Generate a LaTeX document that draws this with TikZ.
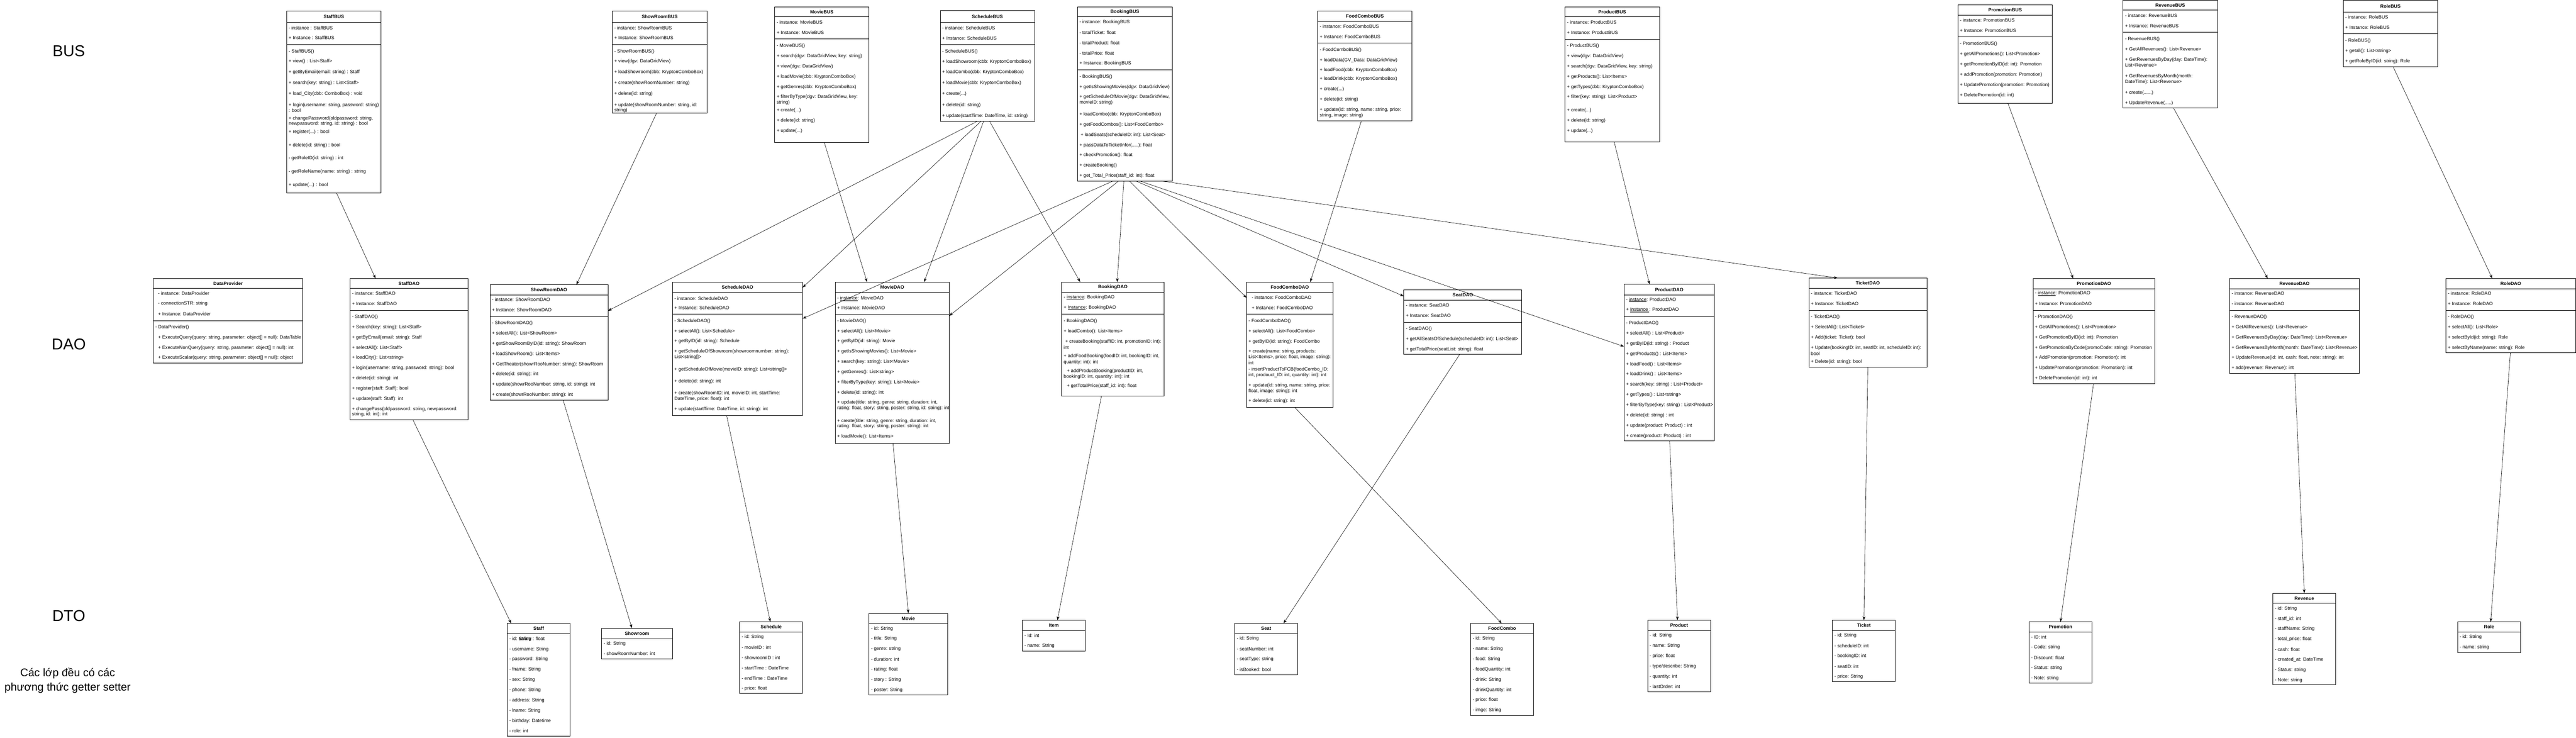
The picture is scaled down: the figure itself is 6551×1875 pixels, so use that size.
\documentclass[tikz,border=0pt]{standalone}
\usepackage{fontspec}
\setmainfont{Liberation Sans}
\usetikzlibrary{arrows.meta, fit}
\tikzset{>=Stealth,
	classbox/.style={draw, line width=1pt, inner sep=0pt, outer sep=0pt},
	classtitle/.style={font=\fontsize{12}{14}\selectfont\bfseries},
	row/.style={anchor=west, inner sep=0pt, font=\fontsize{12}{14}\selectfont},
	link/.style={-{Stealth[length=10pt, width=7pt]}, line width=0.8pt},
	layer/.style={font=\fontsize{40}{48}\selectfont}
}
% class box: name, left, top, right, bottom, header line, separator line, title
\newcommand{\umlclass}[8]{
	\node[classbox, fit={(#2,#3) (#4,#5)}] (#1) {};
	\draw[line width=1pt] (#2,#6) -- (#4,#6);
	\draw[line width=1pt] (#2,#7) -- (#4,#7);
	\node[classtitle] at ({(#2+#4)/2},{(#3+#6)/2}) {#8};
}
\newcommand{\rows}[2]{\foreach \ry/\rt in {#2} \node[row] at (#1+5,\ry) {\rt};}
\newcommand{\dtorows}[3]{\foreach \rt [count=\k from 0] in {#3} \node[row] at (#1+5,#2+26*\k) {\rt};}

\begin{document}
\begin{tikzpicture}[x=1pt, y=-1pt]
	\fill[white] (0,0) rectangle (6551,1875);
	\useasboundingbox (0,0) rectangle (6551,1875);

	\node[layer] (busLabel) at (175,130) {BUS};
	\node[layer] (daoLabel) at (175,875) {DAO};
	\node[layer] (dtoLabel) at (175,1565) {DTO};
	\node[font=\fontsize{28}{36}\selectfont, align=center] (note) at (172,1730) {Các lớp đều có các\\phương thức getter setter};

	% BUS
	\umlclass{staffBUS}{729}{27.5}{969}{491}{57}{113.5}{StaffBUS}
	\rows{729}{71/{- instance : StaffBUS}, 96/{+ Instance : StaffBUS}, 131/{- StaffBUS()}, 156/{+ view() : List<Staff>},
		183/{+ getByEmail(email: string) : Staff}, 211/{+ search(key: string) : List<Staff>}, 238/{+ load\_City(cbb: ComboBox) : void},
		267/{+ login(username: string, password: string)}, 281/{: bool}, 301/{+ changePassword(oldpassword: string,},
		315/{newpassword: string, id: string) : bool}, 335/{+ register(...) : bool}, 369/{+ delete(id: string) : bool},
		403/{- getRoleID(id: string) : int}, 436/{- getRoleName(name: string) : string}, 470/{+ update(...) : bool}}

	\umlclass{showroomBUS}{1557}{27.5}{1798}{287}{57}{113.5}{ShowRoomBUS}
	\rows{1557}{71/{- instance: ShowRoomBUS}, 96/{+ Instance: ShowRoomBUS}, 131/{- ShowRoomBUS()}, 156/{+ view(dgv: DataGridView)},
		183/{+ loadShowroom(cbb: KryptonComboBox)}, 211/{+ create(showRoomNumber: string)}, 238/{+ delete(id: string)},
		267/{+ update(showRoomNumber: string, id:}, 281/{string)}}

	\umlclass{movieBUS}{1970}{17.4}{2210}{361.5}{43}{99}{MovieBUS}
	\rows{1970}{57/{- instance: MovieBUS}, 82.5/{+ Instance: MovieBUS}, 117/{- MovieBUS()}, 143/{+ search(dgv: DataGridView, key: string)},
		169/{+ view(dgv: DataGridView)}, 195/{+ loadMovie(cbb: KryptonComboBox)}, 221/{+ getGenres(cbb: KryptonComboBox)},
		247/{+ filterByType(dgv: DataGridView, key:}, 261/{string)}, 281/{+ create(...)}, 307/{+ delete(id: string)}, 333/{+ update(...)}}

	\umlclass{scheduleBUS}{2391}{27}{2631}{309}{57}{113}{ScheduleBUS}
	\rows{2391}{71/{- instance: ScheduleBUS}, 97/{+ Instance: ScheduleBUS}, 131/{- ScheduleBUS()}, 157/{+ loadShowroom(cbb: KryptonComboBox)},
		183/{+ loadCombo(cbb: KryptonComboBox)}, 211/{+ loadMovie(cbb: KryptonComboBox)}, 239/{+ create(...)},
		267/{+ delete(id: string)}, 295/{+ update(startTime: DateTime, id: string)}}

	\umlclass{bookingBUS}{2740}{17.4}{2981}{460}{43}{178}{BookingBUS}
	\rows{2740}{57/{- instance: BookingBUS}, 82.5/{- totalTicket: float}, 109/{- totalProduct: float}, 135/{- totalPrice: float},
		161/{+ Instance: BookingBUS}, 195/{- BookingBUS()}, 221/{+ getIsShowingMovies(dgv: DataGridView)},
		247/{+ getScheduleOfMovie(dgv: DataGridView,}, 261/{movieID: string)}, 291/{+ loadCombo(cbb: KryptonComboBox)},
		317/{+ getFoodCombos(): List<FoodCombo>}, 343/{\hspace{3pt}+ loadSeats(scheduleID: int): List<Seat>},
		369/{+ passDataToTicketInfor(.....): float}, 395/{+ checkPromotion(): float}, 421/{+ createBooking()},
		447/{+ get\_Total\_Price(staff\_id: int): float}}

	\umlclass{foodcomboBUS}{3351}{27.6}{3591}{307.5}{53.6}{109.5}{FoodComboBUS}
	\rows{3351}{67/{- instance: FoodComboBUS}, 93/{+ Instance: FoodComboBUS}, 127/{- FoodComboBUS()}, 153/{+ loadData(GV\_Data: DataGridView)},
		179/{+ loadFood(cbb: KryptonComboBox)}, 201/{+ loadDrink(cbb: KryptonComboBox)}, 227/{+ create(...)},
		253/{+ delete(id: string)}, 279/{+ update(id: string, name: string, price:}, 293/{string, image: string)}}

	\umlclass{productBUS}{3980}{17}{4220}{361}{43}{99.6}{ProductBUS}
	\rows{3980}{57/{- instance: ProductBUS}, 83/{+ Instance: ProductBUS}, 117/{- ProductBUS()}, 143/{+ view(dgv: DataGridView)},
		169/{+ search(dgv: DataGridView, key: string)}, 195/{+ getProducts(): List<Items>}, 221/{+ getTypes(cbb: KryptonComboBox)},
		247/{+ filter(key: string): List<Product>}, 281/{+ create(...)}, 307/{+ delete(id: string)}, 333/{+ update(...)}}

	\umlclass{promotionBUS}{4979}{12.3}{5219}{262}{38}{94}{PromotionBUS}
	\rows{4979}{52/{- instance: PromotionBUS}, 78/{+ Instance: PromotionBUS}, 112/{- PromotionBUS()},
		138/{+ getAllPromotions(): List<Promotion>}, 164/{+ getPromotionByID(id: int): Promotion},
		190/{+ addPromotion(promotion: Promotion)}, 216/{+ UpdatePromotion(promotion: Promotion)}, 242/{+ DeletePromotion(id: int)}}

	\umlclass{revenueBUS}{5399}{1}{5639}{274}{26}{82}{RevenueBUS}
	\rows{5399}{40/{- instance: RevenueBUS}, 66/{+ Instance: RevenueBUS}, 100/{- RevenueBUS()}, 126/{+ GetAllRevenues(): List<Revenue>},
		152/{+ GetRevenuesByDay(day: DateTime):}, 165/{List<Revenue>}, 194/{+ GetRevenuesByMonth(month:},
		208/{DateTime): List<Revenue>}, 236/{+ create(......)}, 262/{+ UpdateRevenue(.....)}}

	\umlclass{roleBUS}{5959}{1}{6199}{170}{30}{86}{RoleBUS}
	\rows{5959}{44/{- instance: RoleBUS}, 70/{+ Instance: RoleBUS}, 104/{- RoleBUS()}, 130/{+ getall(): List<string>},
		156/{+ getRoleByID(id: string): Role}}

	% DAO
	\umlclass{dataProvider}{390}{708}{770}{923}{733}{815}{DataProvider}
	\rows{390}{746/{\hspace{7pt}- instance: DataProvider}, 772/{\hspace{7pt}- connectionSTR: string}, 798/{\hspace{7pt}+ Instance: DataProvider},
		832/{- DataProvider()}, 858/{\hspace{7pt}+ ExecuteQuery(query: string, parameter: object[] = null): DataTable},
		884/{\hspace{7pt}+ ExecuteNonQuery(query: string, parameter: object[] = null): int},
		910/{\hspace{7pt}+ ExecuteScalar(query: string, parameter: object[] = null): object}}

	\umlclass{staffDAO}{890}{708}{1190}{1067}{733}{789}{StaffDAO}
	\rows{890}{746/{- instance: StaffDAO}, 772/{+ Instance: StaffDAO}, 806/{- StaffDAO()}, 832/{+ Search(key: string): List<Staff>},
		858/{+ getByEmail(email: string): Staff}, 884/{+ selectAll(): List<Staff>}, 910/{+ loadCity(): List<string>},
		936/{+ login(username: string, password: string): bool}, 962/{+ delete(id: string): int}, 988/{+ register(staff: Staff): bool},
		1014/{+ update(staff: Staff): int}, 1040/{+ changePass(oldpassword: string, newpassword:}, 1054/{string, id: int): int}}

	\umlclass{showroomDAO}{1246}{723.5}{1546}{1017}{749.5}{805}{ShowRoomDAO}
	\rows{1246}{762/{- instance: ShowRoomDAO}, 788/{+ Instance: ShowRoomDAO}, 822/{- ShowRoomDAO()}, 848/{+ selectAll(): List<ShowRoom>},
		874/{+ getShowRoomByID(id: string): ShowRoom}, 900/{+ loadShowRoom(): List<Items>},
		926/{+ GetTheater(showrRooNumber: string): ShowRoom}, 952/{+ delete(id: string): int},
		978/{+ update(showrRooNumber: string, id: string): int}, 1004/{+ create(showrRooNumber: string): int}}

	\umlclass{scheduleDAO}{1710}{717}{2041}{1057}{743}{799}{ScheduleDAO}
	\rows{1710}{759/{- instance: ScheduleDAO}, 783/{+ Instance: ScheduleDAO}, 816/{- ScheduleDAO()}, 842/{+ selectAll(): List<Schedule>},
		868/{+ getByID(id: string): Schedule}, 894/{+ getScheduleOfShowroom(showroomnumber: string):}, 908/{List<string[]>},
		940/{+ getScheduleOfMovie(movieID: string): List<string[]>}, 970/{+ delete(id: string): int},
		1000/{+ create(showRoomID: int, movieID: int, startTime:}, 1014/{DateTime, price: float): int},
		1040/{+ update(startTime: DateTime, id: string): int}}

	\umlclass{movieDAO}{2124}{717}{2414}{1127}{743}{799.5}{MovieDAO}
	\rows{2124}{759/{- \underline{instance}: MovieDAO}, 783/{+ Instance: MovieDAO}, 816/{- MovieDAO()}, 842/{+ selectAll(): List<Movie>},
		868/{+ getByID(id: string): Movie}, 894/{+ getIsShowingMovies(): List<Movie>}, 920/{+ search(key: string): List<Movie>},
		946/{+ getGenres(): List<string>}, 972/{+ filterByType(key: string): List<Movie>}, 998/{+ delete(id: string): int},
		1024/{+ update(title: string, genre: string, duration: int,}, 1038/{rating: float, story: string, poster: string, id: string): int},
		1070/{+ create(title: string, genre: string, duration: int,}, 1084/{rating: float, story: string, poster: string): int},
		1110/{+ loadMovie(): List<Items>}}

	\umlclass{bookingDAO}{2700}{717}{2960}{1007}{743}{799}{BookingDAO}
	\rows{2700}{756/{- \underline{instance}: BookingDAO}, 782/{+ \underline{Instance}: BookingDAO}, 817/{- BookingDAO()},
		843/{+ loadCombo(): List<Items>}, 869/{\hspace{4pt}+ createBooking(staffID: int, promotionID: int):}, 883/{int},
		906/{+ addFoodBooking(foodID: int, bookingID: int,}, 921/{quantity: int): int},
		944/{\hspace{8pt}+ addProductBooking(productID: int,}, 958/{bookingID: int, quantity: int): int},
		982/{\hspace{8pt}+ getTotalPrice(staff\_id: int): float}}

	\umlclass{foodcomboDAO}{3170}{717}{3390}{1035}{743}{799}{FoodComboDAO}
	\rows{3170}{756/{\hspace{8pt}- instance: FoodComboDAO}, 782/{\hspace{8pt}+ Instance: FoodComboDAO}, 817/{- FoodComboDAO()},
		843/{+ selectAll(): List<FoodCombo>}, 869/{+ getByID(id: string): FoodCombo}, 894/{+ create(name: string, products:},
		908/{List<Items>, price: float, image: string):}, 923/{int}, 940/{- insertProductToFCB(foodCombo\_ID:},
		954/{int, prodouct\_ID: int, quantity: int): int}, 980/{+ update(id: string, name: string, price:},
		994/{float, image: string): int}, 1020/{+ delete(id: string): int}}

	\umlclass{seatDAO}{3570}{737}{3870}{901}{763}{819}{SeatDAO}
	\rows{3570}{776/{- instance: SeatDAO}, 802/{+ Instance: SeatDAO}, 836/{- SeatDAO()},
		862/{+ getAllSeatsOfSchedule(scheduleID: int): List<Seat>}, 888/{+ getTotalPrice(seatList: string): float}}

	\umlclass{productDAO}{4130}{723}{4360}{1121}{750}{805}{ProductDAO}
	\rows{4130}{762/{- \underline{instance}: ProductDAO}, 788/{+ \underline{Instance\ }: ProductDAO}, 822/{- ProductDAO()},
		848/{+ selectAll() : List<Product>}, 874/{+ getByID(id: string) : Product}, 900/{+ getProducts() : List<Items>},
		926/{+ loadFood() : List<Items>}, 952/{+ loadDrink() : List<Items>}, 978/{+ search(key: string) : List<Product>},
		1004/{+ getTypes() : List<string>}, 1030/{+ filterByType(key: string) : List<Product>}, 1056/{+ delete(id: string) : int},
		1082/{+ update(product: Product) : int}, 1108/{+ create(product: Product) : int}}

	\umlclass{ticketDAO}{4600}{707}{4900}{933}{733}{789}{TicketDAO}
	\rows{4600}{746/{- instance: TicketDAO}, 772/{+ Instance: TicketDAO}, 806/{- TicketDAO()}, 832/{+ SelectAll(): List<Ticket>},
		858/{+ Add(ticket: Ticket): bool}, 884/{+ Update(bookingID: int, seatID: int, scheduleID: int):}, 899/{bool},
		920/{+ Delete(id: string): bool}}

	\umlclass{promotionDAO}{5170}{708}{5480}{975}{734}{789}{PromotionDAO}
	\rows{5170}{746/{- \underline{instance}: PromotionDAO}, 772/{+ Instance: PromotionDAO}, 806/{- PromotionDAO()},
		832/{+ GetAllPromotions(): List<Promotion>}, 858/{+ GetPromotionByID(id: int): Promotion},
		884/{+ GetPromotionByCode(promoCode: string): Promotion}, 910/{+ AddPromotion(promotion: Promotion): int},
		936/{+ UpdatePromotion(promotion: Promotion): int}, 962/{+ DeletePromotion(id: int): int}}

	\umlclass{revenueDAO}{5670}{708}{6000}{949}{734}{789}{RevenueDAO}
	\rows{5670}{746/{- instance: RevenueDAO}, 772/{- instance: RevenueDAO}, 806/{- RevenueDAO()},
		832/{+ GetAllRevenues(): List<Revenue>}, 858/{+ GetRevenuesByDay(day: DateTime): List<Revenue>},
		884/{+ GetRevenuesByMonth(month: DateTime): List<Revenue>}, 910/{+ UpdateRevenue(id: int, cash: float, note: string): int},
		936/{+ add(revenue: Revenue): int}}

	\umlclass{roleDAO}{6220}{708}{6550}{897}{734}{789}{RoleDAO}
	\rows{6220}{746/{- instance: RoleDAO}, 772/{+ Instance: RoleDAO}, 806/{- RoleDAO()}, 832/{+ selectAll(): List<Role>},
		858/{+ selectById(id: string): Role}, 884/{+ selectByName(name: string): Role}}

	% DTO
	\umlclass{staff}{1290}{1585}{1450}{1871}{1611}{1611}{Staff}
	\dtorows{1290}{1624.5}{- id: String, - username: String, - password: String, - fname: String, - sex: String, - phone: String,
		- address: String, - lname: String, - birthday: Datetime, - role: int}
	\node[row] (salary) at (1319,1624.5) {salary : float};

	\umlclass{showroom}{1530}{1597}{1710}{1675}{1624}{1624}{Showroom}
	\dtorows{1530}{1636}{- id: String, - showRoomNumber: int}

	\umlclass{schedule}{1881}{1581}{2041}{1763}{1607}{1607}{Schedule}
	\dtorows{1881}{1620}{- id: String, - movieID : int, - showroomID : int, - startTime : DateTime, - endTime : DateTime, - price: float}

	\umlclass{movie}{2210}{1559}{2410}{1766}{1585}{1585}{Movie}
	\dtorows{2210}{1598}{- id: String, - title: String, - genre: string, - duration: int, - rating: float, - story : String, - poster: String}

	\umlclass{item}{2600}{1577}{2760}{1655}{1603}{1603}{Item}
	\dtorows{2600}{1616}{- Id: int, - name: String}

	\umlclass{seat}{3140}{1585}{3300}{1715}{1611}{1611}{Seat}
	\dtorows{3140}{1624}{- id: String, - seatNumber: int, - seatType: string, - isBooked: bool}

	\umlclass{foodcombo}{3740}{1585}{3900}{1819}{1611}{1611}{FoodCombo}
	\dtorows{3740}{1624}{- id: String, - name: String, - food: String, - foodQuantity: int, - drink: String, - drinkQuantity: int,
		- price: float, - imge: String}

	\umlclass{product}{4190}{1577}{4350}{1759}{1603}{1603}{Product}
	\dtorows{4190}{1616}{- id: String, - name: String, - price: float, - type/describe: String, - quantity: int, - lastOrder: int}

	\umlclass{ticket}{4660}{1577}{4820}{1732}{1603}{1603}{Ticket}
	\dtorows{4660}{1616}{- id: String, - scheduleID: int, - bookingID: int, - seatID: int, - price: String}

	\umlclass{promotion}{5160}{1581}{5320}{1737}{1607}{1607}{Promotion}
	\dtorows{5160}{1620}{- ID: int, - Code: string, - Discount: float, - Status: string, - Note: string}

	\umlclass{revenue}{5780}{1508}{5940}{1741}{1534}{1534}{Revenue}
	\dtorows{5780}{1547}{- id: String, - staff\_id: int, - staffName: String, - total\_price: float, - cash: float,
		- created\_at: DateTime, - Status: string, - Note: string}

	\umlclass{role}{6250}{1581}{6410}{1659}{1607}{1607}{Role}
	\dtorows{6250}{1620}{- id: String, - name: string}

	% BUS -> DAO
	\draw[link] ([xshift=7pt]staffBUS.south) -- ([xshift=-85pt]staffDAO.north);
	\draw[link] ([xshift=-7.5pt]showroomBUS.south) -- ([xshift=70pt]showroomDAO.north);
	\draw[link] ([xshift=6pt]movieBUS.south) -- ([xshift=-64pt]movieDAO.north);
	\draw[link] ([xshift=-27pt]scheduleBUS.south) -- ([yshift=80pt]showroomDAO.east);
	\draw[link] ([xshift=-17pt]scheduleBUS.south) -- ([yshift=156pt]scheduleDAO.east);
	\draw[link] ([xshift=-10pt]scheduleBUS.south) -- ([xshift=81pt]movieDAO.north);
	\draw[link] ([xshift=6pt]scheduleBUS.south) -- ([xshift=-83pt]bookingDAO.north);
	\draw[link] ([xshift=-29.5pt]bookingBUS.south) -- ([yshift=77pt]scheduleDAO.east);
	\draw[link] ([xshift=-15.5pt]bookingBUS.south) -- ([yshift=119pt]movieDAO.east);
	\draw[link] ([xshift=-2.5pt]bookingBUS.south) -- ([xshift=11pt]bookingDAO.north);
	\draw[link] ([xshift=11.5pt]bookingBUS.south) -- ([yshift=119pt]foodcomboDAO.west);
	\draw[link] ([xshift=27.5pt]bookingBUS.south) -- ([yshift=66pt]seatDAO.west);
	\draw[link] ([xshift=37.5pt]bookingBUS.south) -- ([yshift=41pt]productDAO.west);
	\draw[link] ([xshift=91.5pt]bookingBUS.south) -- ([xshift=-76pt]ticketDAO.north);
	\draw[link] ([xshift=-9pt]foodcomboBUS.south) -- ([xshift=52pt]foodcomboDAO.north);
	\draw[link] ([xshift=5pt]productBUS.south) -- ([xshift=-50pt]productDAO.north);
	\draw[link] ([xshift=7pt]promotionBUS.south) -- ([xshift=-53pt]promotionDAO.north);
	\draw[link] ([xshift=8pt]revenueBUS.south) -- ([xshift=-68pt]revenueDAO.north);
	\draw[link] ([xshift=7pt]roleBUS.south) -- ([xshift=-47pt]roleDAO.north);

	% DAO -> DTO
	\draw[link] ([xshift=10pt]staffDAO.south) -- ([xshift=-70pt]staff.north);
	\draw[link] ([xshift=36pt]showroomDAO.south) -- ([xshift=-13pt]showroom.north);
	\draw[link] ([xshift=-27.5pt]scheduleDAO.south) -- ([xshift=-2pt]schedule.north);
	\draw[link] ([xshift=2pt]movieDAO.south) -- (movie.north);
	\draw[link] ([xshift=-29pt]bookingDAO.south) -- ([xshift=9pt]item.north);
	\draw[link] ([xshift=12pt]foodcomboDAO.south) -- ([xshift=-1pt]foodcombo.north);
	\draw[link] ([xshift=-8pt]seatDAO.south) -- ([xshift=44pt]seat.north);
	\draw[link] ([xshift=1pt]productDAO.south) -- ([xshift=-4pt]product.north);
	\draw[link] (ticketDAO.south) -- (ticket.north);
	\draw[link] ([xshift=-1pt]promotionDAO.south) -- (promotion.north);
	\draw[link] ([xshift=1pt]revenueDAO.south) -- (revenue.north);
	\draw[link] ([xshift=-1pt]roleDAO.south) -- ([xshift=4pt]role.north);
\end{tikzpicture}
\end{document}
